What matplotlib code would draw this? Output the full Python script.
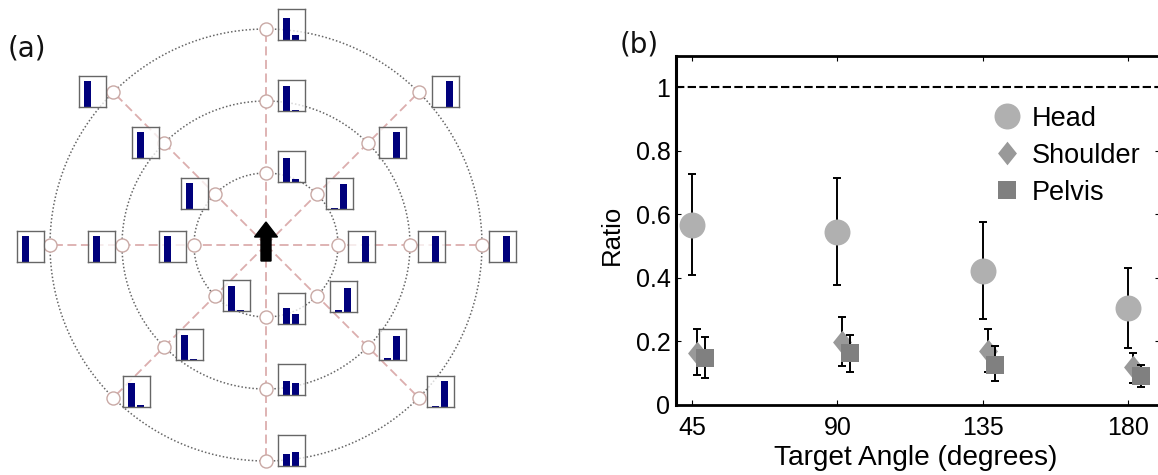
import numpy as np
import matplotlib
matplotlib.use("Agg")
import matplotlib.pyplot as plt
from matplotlib.patches import FancyArrow

# ---------- panel (a) data ----------
ring_radii = [72, 144, 216]
spoke_angles = [90, 45, 0, -45, -90, -135, 180, 135]
# bar heights per direction (same order as spoke_angles), rings inner to outer
bar_first = [
    [0.78, 0.81, 0.72],
    [0.03, 0.01, 0.01],
    [0.00, 0.00, 0.00],
    [0.06, 0.07, 0.02],
    [0.53, 0.46, 0.40],
    [0.80, 0.82, 0.79],
    [0.84, 0.84, 0.84],
    [0.84, 0.84, 0.84],
]
bar_second = [
    [0.10, 0.02, 0.17],
    [0.82, 0.84, 0.84],
    [0.84, 0.84, 0.84],
    [0.78, 0.79, 0.83],
    [0.32, 0.40, 0.45],
    [0.04, 0.02, 0.07],
    [0.00, 0.00, 0.00],
    [0.00, 0.00, 0.00],
]
# ---------- panel (b) data ----------
angles = [45, 90, 135, 180]
head_mean = [0.566, 0.544, 0.423, 0.304]
head_low = [0.410, 0.379, 0.270, 0.178]
head_high = [0.726, 0.715, 0.577, 0.433]
shoulder_mean = [0.163, 0.198, 0.170, 0.121]
shoulder_low = [0.096, 0.122, 0.104, 0.070]
shoulder_high = [0.240, 0.278, 0.240, 0.164]
pelvis_mean = [0.149, 0.163, 0.127, 0.092]
pelvis_low = [0.084, 0.103, 0.075, 0.057]
pelvis_high = [0.214, 0.221, 0.186, 0.125]
y_ticks = [0, 0.2, 0.4, 0.6, 0.8, 1]
y_tick_labels = ["0", "0.2", "0.4", "0.6", "0.8", "1"]

# ---------- layout (pixels) ----------
W, H = 1158, 475
CX, CY = 266, 245
# inset box left/top edges, per direction, rings inner to outer
box_left = [
    [278, 278, 278], [326, 379, 432], [348, 418, 489], [330, 379, 427],
    [278, 278, 278], [223, 176, 123], [159, 88, 17], [181, 132, 79],
]
box_top = [
    [151, 80, 9], [178, 127, 76], [231, 231, 231], [281, 329, 376],
    [293, 364, 435], [280, 329, 376], [231, 231, 231], [178, 127, 76],
]
BOX_W, BOX_H = 27, 31

plt.rcParams["font.family"] = ["Liberation Sans", "DejaVu Sans"]
fig = plt.figure(figsize=(W / 100, H / 100), dpi=100, facecolor="white")

# ---------- panel (a) ----------
ax = fig.add_axes([0, 0, 1, 1])
ax.set_xlim(0, W)
ax.set_ylim(H, 0)
ax.axis("off")

t = np.linspace(0, 2 * np.pi, 500)
for r in ring_radii:
    ax.plot(CX + r * np.cos(t), CY + r * np.sin(t), color="#666666", lw=1.1,
            ls=(0, (1, 1.4)), zorder=1)
for a in spoke_angles:
    c, s = np.cos(np.radians(a)), np.sin(np.radians(a))
    ax.plot([CX, CX + ring_radii[-1] * c], [CY, CY - ring_radii[-1] * s],
            color="#dcaeae", lw=1.3, ls=(0, (5, 2.5)), zorder=2)
    for r in ring_radii:
        ax.plot(CX + r * c, CY - r * s, "o", ms=9.4, mfc="white", mec="#c9a9a5",
                mew=1.0, zorder=3)

for i, a in enumerate(spoke_angles):
    for j in range(3):
        ins = fig.add_axes([box_left[i][j] / W, 1 - (box_top[i][j] + BOX_H) / H,
                            BOX_W / W, BOX_H / H], zorder=4)
        ins.set_xlim(0, 1)
        ins.set_ylim(0, 1)
        ins.set_xticks([])
        ins.set_yticks([])
        ins.patch.set_alpha(0.75)
        ins.bar([0.31, 0.64], [bar_first[i][j], bar_second[i][j]], width=0.28,
                color="#00007c")
        for sp in ins.spines.values():
            sp.set_color("#666666")
            sp.set_linewidth(1.0)

ax.add_patch(FancyArrow(CX, CY + 16, 0, -39, width=10, head_width=23, head_length=15,
                        length_includes_head=True, color="black", zorder=5))
ax.text(8, 49, "(a)", fontsize=20, family="DejaVu Sans", va="center", ha="left", color="#111111")
ax.text(620, 45, "(b)", fontsize=20, family="DejaVu Sans", va="center", ha="left", color="#111111")

# ---------- panel (b) ----------
L, R, T, B = 676, 1160, 55.7, 405
bx = fig.add_axes([L / W, 1 - B / H, (R - L) / W, (B - T) / H], zorder=2)
bx.set_xlim(40, 190)
bx.set_ylim(0, 1.10)
bx.axhline(1, color="black", lw=1.5, ls=(0, (4, 1.6)), zorder=1)


def series(x_off, mean, low, high, marker, ms, color, label, z):
    x = np.array(angles) + x_off
    mean = np.array(mean)
    bx.errorbar(x, mean, yerr=[mean - np.array(low), np.array(high) - mean], fmt="none",
                ecolor="black", elinewidth=1.4, capsize=3, capthick=1.4, zorder=z)
    bx.plot(x, mean, ls="none", marker=marker, ms=ms, color=color, mec=color, mew=0,
            label=label, zorder=z + 0.5)


diamond = [(0, 1), (0.8, 0), (0, -1), (-0.8, 0)]
series(0, head_mean, head_low, head_high, "o", 18.7, "#b0b0b0", "Head", 3)
series(1.6, shoulder_mean, shoulder_low, shoulder_high, diamond, 17, "#999999", "Shoulder", 4)
series(4.0, pelvis_mean, pelvis_low, pelvis_high, "s", 12.5, "#808080", "Pelvis", 5)

bx.set_xticks(angles)
bx.set_yticks(y_ticks)
bx.set_yticklabels(y_tick_labels)
bx.tick_params(direction="in", length=3.6, width=0.8, top=True, right=True, labelsize=18, pad=4)
bx.tick_params(axis="x", pad=8)
for name, lw in [("left", 2.2), ("top", 2.0), ("bottom", 2.0), ("right", 2.0)]:
    bx.spines[name].set_linewidth(lw)
bx.set_xlabel("Target Angle (degrees)", fontsize=20.2)
bx.xaxis.set_label_coords((916 - L) / (R - L), -(458 - B) / (B - T), transform=bx.transAxes)
bx.xaxis.label.set_va("center")
bx.set_ylabel("Ratio", fontsize=18.5)
bx.yaxis.set_label_coords((612 - L) / (R - L), (B - 235) / (B - T), transform=bx.transAxes)
bx.yaxis.label.set_va("center")

leg = bx.legend(loc="upper left", bbox_to_anchor=((985 - L) / (R - L), (B - 105.5) / (B - T)),
                frameon=False, fontsize=19.5, handlelength=1.6, handletextpad=0.14,
                labelspacing=0.41, borderpad=0, borderaxespad=0, numpoints=1)

fig.savefig("out.png", dpi=100, facecolor="white")
